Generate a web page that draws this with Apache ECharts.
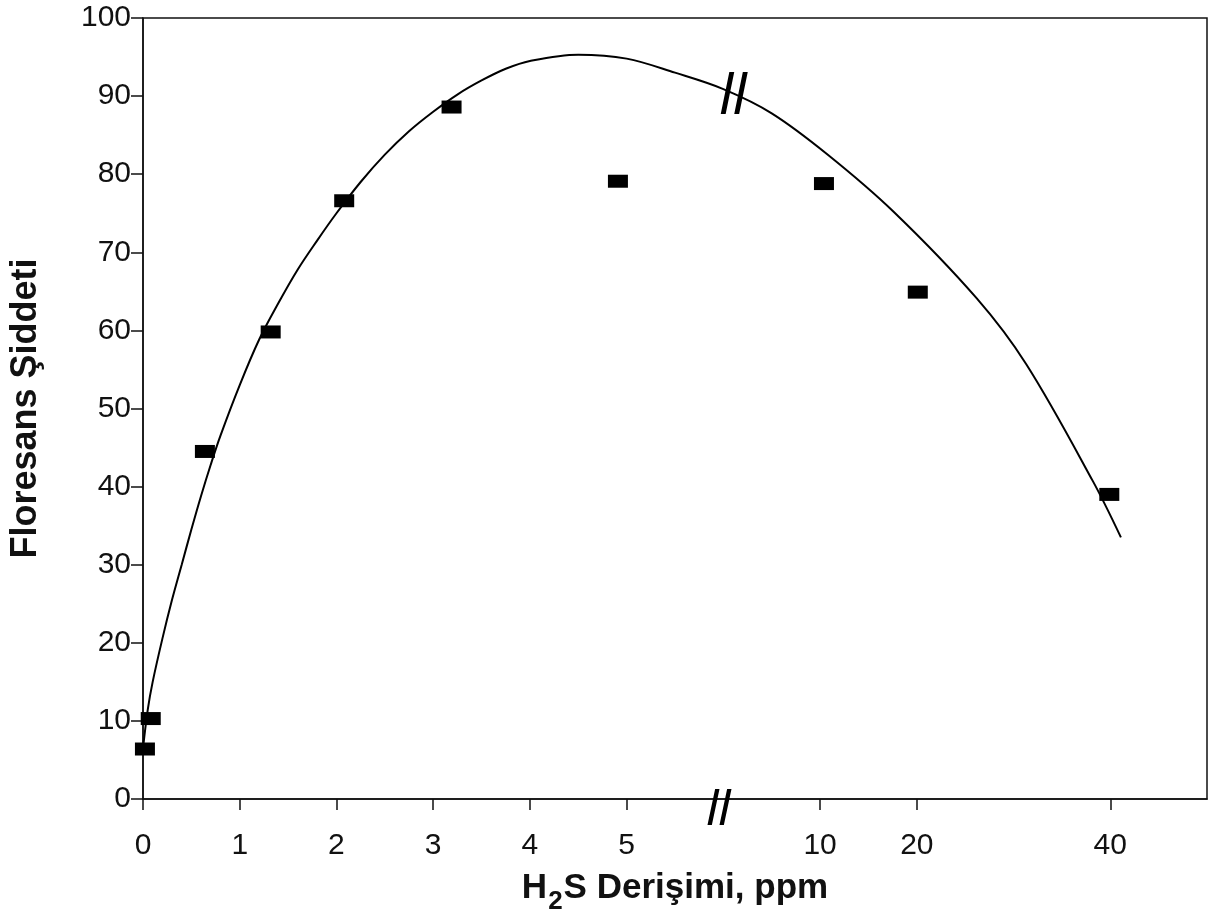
<!DOCTYPE html>
<html>
<head>
<meta charset="utf-8">
<script src="https://cdn.jsdelivr.net/npm/echarts@6/dist/echarts.min.js"></script>
<style>
html,body{margin:0;padding:0;background:#fff;}
#chart{width:1215px;height:922px;}
</style>
</head>
<body>
<div id="chart"></div>
<script>
// ---- data (H2S concentration in ppm, fluorescence intensity) ----
const pointX = [0.02, 0.08, 0.64, 1.32, 2.08, 3.19, 4.91, 10.4, 20.1, 39.9];
const pointY = [6.4, 10.3, 44.5, 59.8, 76.6, 88.6, 79.1, 78.8, 64.9, 39.0];

// fitted curve
const curveX = [0.0, 0.05, 0.1, 0.2, 0.3, 0.4, 0.5, 0.6, 0.7, 0.8, 1.0, 1.2, 1.4, 1.6, 1.8, 2.0, 2.25, 2.5, 2.75, 3.0, 3.25, 3.5, 3.75, 4.0, 4.5, 5.0, 5.5, 6.0, 8.0, 10.8, 17.6, 26.2, 31.3, 38.2, 41.1];
const curveY = [6.5, 11.5, 15.0, 20.5, 25.5, 30.0, 34.5, 38.8, 42.8, 46.5, 53.0, 58.8, 63.5, 67.8, 71.5, 75.0, 79.0, 82.5, 85.5, 88.0, 90.2, 92.0, 93.5, 94.5, 95.3, 94.8, 93.0, 90.9, 87.8, 82.5, 75.2, 64.1, 55.7, 40.7, 33.5];

const xTickLabels = [0, 1, 2, 3, 4, 5, 10, 20, 40];
const yTickLabels = [0, 10, 20, 30, 40, 50, 60, 70, 80, 90, 100];

// axis break marks "//" (one on the axis, one on the curve)
const breakX = [5.96, 6.45];
const breakY = [0, 90.4];

// ---- broken-axis transform: 0..6 linear, 10..40 compressed ----
function xToU(x) {
  if (x <= 6) return x;
  if (x >= 10) return 7 + (x - 10) / 10;
  return 6 + (x - 6) / 4;
}
const xTickPos = xTickLabels.map(xToU);
const labelByPos = {};
xTickLabels.forEach((v, i) => { labelByPos[xTickPos[i].toFixed(4)] = String(v); });

const FONT = '"Liberation Sans", Arial, Helvetica, sans-serif';
const INK = '#111';

const breakPath = 'path://M7,0 L11,0 L4,40 L0,40 Z M18,0 L22,0 L15,40 L11,40 Z';

const chart = echarts.init(document.getElementById('chart'), null, {renderer: 'canvas'});
const option = {
  animation: false,
  backgroundColor: '#fff',
  grid: {left: 140, right: 8, top: 18, bottom: 123, show: true, borderColor: INK, borderWidth: 1.5, backgroundColor: 'transparent'},
  xAxis: {
    type: 'value', min: 0, max: 11,
    axisLine: {show: true, onZero: false, lineStyle: {color: INK, width: 1.5}},
    axisTick: {show: true, customValues: xTickPos, length: 11, inside: false, lineStyle: {color: INK, width: 1.5}},
    axisLabel: {
      customValues: xTickPos,
      formatter: v => labelByPos[Number(v).toFixed(4)] || '',
      fontSize: 30, color: INK, fontFamily: FONT, margin: 32
    },
    splitLine: {show: false},
    name: '{a|H}{s|2}{a|S Derişimi, ppm}',
    nameLocation: 'middle', nameGap: 69,
    nameTextStyle: {
      rich: {
        a: {fontSize: 35, fontWeight: 'bold', fontFamily: FONT, color: INK, height: 40, verticalAlign: 'top'},
        s: {fontSize: 26, fontWeight: 'bold', fontFamily: FONT, color: INK, height: 26, verticalAlign: 'top', padding: [21, 1, 0, 1]}
      }
    }
  },
  yAxis: {
    type: 'value', min: 0, max: 100, interval: 10,
    axisLine: {show: true, onZero: false, lineStyle: {color: INK, width: 1.5}},
    axisTick: {show: true, length: 12, inside: false, lineStyle: {color: INK, width: 1.5}},
    axisLabel: {
      formatter: v => (yTickLabels.indexOf(v) >= 0 ? String(v) : ''),
      fontSize: 30, color: INK, fontFamily: FONT, margin: 12
    },
    splitLine: {show: false},
    name: 'Floresans Şiddeti',
    nameLocation: 'middle', nameGap: 99,
    nameTextStyle: {fontSize: 36, fontWeight: 'bold', fontFamily: FONT, color: INK}
  },
  series: [
    {
      type: 'line',
      data: curveX.map((x, i) => [xToU(x), curveY[i]]),
      smooth: 0.35,
      showSymbol: false,
      lineStyle: {color: '#000', width: 2},
      z: 2
    },
    {
      type: 'scatter',
      data: pointX.map((x, i) => [xToU(x), pointY[i]]),
      symbol: 'rect',
      symbolSize: [20, 13],
      itemStyle: {color: '#000', opacity: 1},
      z: 3
    },
    {
      type: 'scatter',
      clip: false,
      data: breakX.map((x, i) => ({
        value: [xToU(x), breakY[i]],
        symbolSize: i === 0 ? [24, 36] : [27, 42],
        symbolOffset: i === 0 ? [0, 8] : [0, 0]
      })),
      symbol: breakPath,
      itemStyle: {color: '#000', opacity: 1},
      z: 4
    }
  ]
};
chart.setOption(option);
</script>
</body>
</html>
